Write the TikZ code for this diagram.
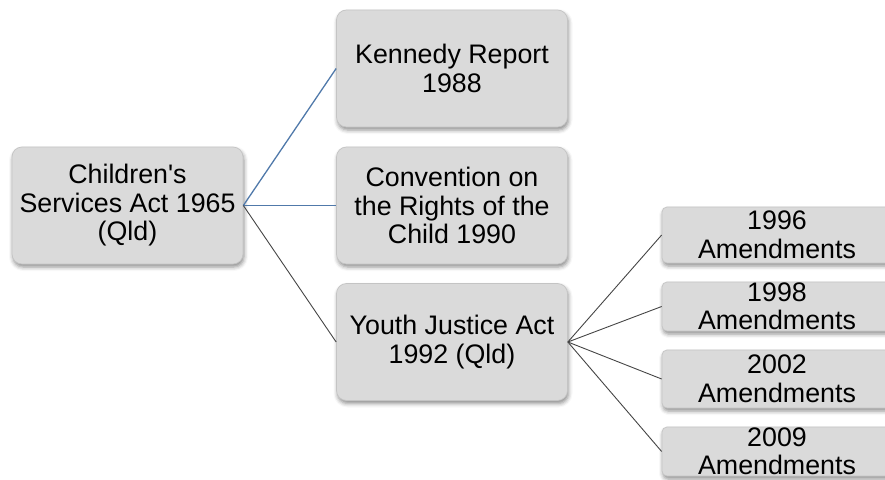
\documentclass[tikz,border=0pt]{standalone}
\usepackage{fontspec}
\setmainfont{Liberation Sans}
\usetikzlibrary{shadows.blur}
\definecolor{boxfill}{HTML}{DADADA}
\definecolor{boxline}{HTML}{C4C4C4}
\definecolor{bluelink}{HTML}{5079AA}
\definecolor{graylink}{HTML}{454545}
\tikzset{
  basebox/.style={draw=boxline, line width=0.7pt, fill=boxfill, inner sep=0pt,
    align=center, text=black, font=\fontsize{26.8}{28.5}\selectfont,
    blur shadow={shadow xshift=1pt, shadow yshift=-3pt, shadow blur radius=4pt, shadow opacity=45}},
  bigbox/.style={basebox, rounded corners=10pt, minimum width=231pt, minimum height=117pt},
  amdbox/.style={basebox, rounded corners=5pt, minimum width=230pt},
  bluecon/.style={draw=bluelink, line width=1.3pt},
  graycon/.style={draw=graylink, line width=0.9pt}
}
\begin{document}
\begin{tikzpicture}[x=1pt,y=1pt]
\useasboundingbox (0,0) rectangle (885,-479);
\node[bigbox] (csa) at (127.5,-205.5) {Children\textquotesingle s\\Services Act 1965\\(Qld)};
\node[bigbox] (ken) at (452,-68.5) {Kennedy Report\\1988};
\node[bigbox] (crc) at (452,-205.5) {Convention on\\the Rights of the\\Child 1990};
\node[bigbox] (yja) at (452,-342) {Youth Justice Act\\1992 (Qld)};
\node[amdbox, minimum height=56pt] (a96) at (777,-235) {1996\\Amendments};
\node[amdbox, minimum height=49pt] (a98) at (777,-306.5) {1998\\Amendments};
\node[amdbox, minimum height=58pt] (a02) at (777,-379) {2002\\Amendments};
\node[amdbox, minimum height=49pt] (a09) at (777,-451.5) {2009\\Amendments};
\draw[bluecon] (csa.east) -- (ken.west);
\draw[bluecon] (csa.east) -- (crc.west);
\draw[graycon] (csa.east) -- (yja.west);
\draw[graycon] (yja.east) -- (a96.west);
\draw[graycon] (yja.east) -- (a98.west);
\draw[graycon] (yja.east) -- (a02.west);
\draw[graycon] (yja.east) -- (a09.west);
\end{tikzpicture}
\end{document}
